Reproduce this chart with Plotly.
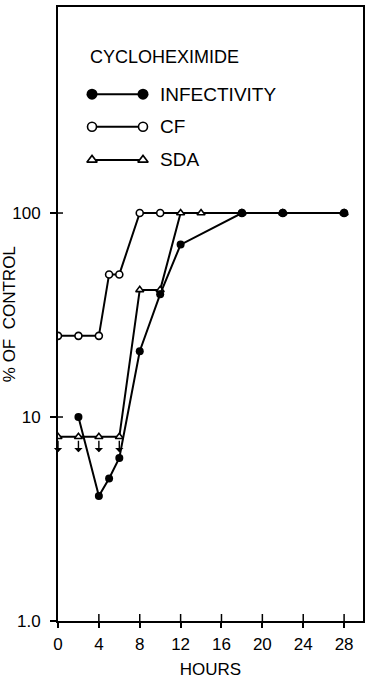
import math
import plotly.graph_objects as go

# ---------------- data ----------------
hours_infectivity = [2, 4, 5, 6, 8, 10, 12, 18, 22, 28]
infectivity = [10, 4.1, 5.0, 6.3, 21, 40, 70, 100, 100, 100]

hours_cf = [0, 2, 4, 5, 6, 8, 10, 18, 22, 28]
cf = [25, 25, 25, 50, 50, 100, 100, 100, 100, 100]

hours_sda = [0, 2, 4, 6, 8, 10, 12, 14, 18, 22, 28]
sda = [8, 8, 8, 8, 42, 42, 100, 100, 100, 100, 100]
sda_below_limit = [True, True, True, True, False, False, False, False, False, False, False]

x_ticks = [0, 4, 8, 12, 16, 20, 24, 28]
y_ticks = [1, 10, 100]
y_ticktext = ["1.0", "10", "100"]

legend_title = "CYCLOHEXIMIDE"
legend_labels = ["INFECTIVITY", "CF", "SDA"]
y_title = "% OF  CONTROL"

# ---------------- styling ----------------
FONT = "Liberation Sans"
BLACK = "black"
X_RANGE = [0, 29.85]
Y_RANGE = [0, 3.01]

fig = go.Figure()

fig.add_trace(go.Scatter(
    x=hours_cf, y=cf, mode="lines+markers", showlegend=False,
    line=dict(color=BLACK, width=2),
    marker=dict(symbol="circle", size=7, color="white", line=dict(color=BLACK, width=1.6)),
))
fig.add_trace(go.Scatter(
    x=hours_sda, y=sda, mode="lines+markers", showlegend=False,
    line=dict(color=BLACK, width=2),
    marker=dict(symbol="triangle-up", size=7, color="white", line=dict(color=BLACK, width=1.6)),
))
fig.add_trace(go.Scatter(
    x=hours_infectivity, y=infectivity, mode="lines+markers", showlegend=False,
    line=dict(color=BLACK, width=2),
    marker=dict(symbol="circle", size=8, color=BLACK),
))

# "less than" arrows under SDA points
for h, v, below in zip(hours_sda, sda, sda_below_limit):
    if below:
        fig.add_annotation(
            x=h, y=math.log10(v), xref="x", yref="y", text="",
            showarrow=True, ax=0, ay=17, arrowside="start",
            arrowhead=2, arrowsize=1, arrowwidth=1.4, arrowcolor=BLACK,
            standoff=4,
        )

# inner half of the crossing tick marks (outer half comes from the axes)
for t in x_ticks[1:]:
    fig.add_shape(type="line", xref="x", yref="paper", ysizemode="pixel", yanchor=0,
                  x0=t, x1=t, y0=0, y1=7, line=dict(color=BLACK, width=1.5))
for t in y_ticks[1:]:
    frac = (math.log10(t) - Y_RANGE[0]) / (Y_RANGE[1] - Y_RANGE[0])
    fig.add_shape(type="line", xref="paper", yref="paper", xsizemode="pixel", xanchor=0,
                  x0=0, x1=5, y0=frac, y1=frac, line=dict(color=BLACK, width=1.5))

# ---------------- custom legend (drawn on an overlay axis in 0..1 units) ----------------
legend_markers = [
    dict(symbol="circle", size=11, color=BLACK),
    dict(symbol="circle", size=9, color="white", line=dict(color=BLACK, width=1.6)),
    dict(symbol="triangle-up", size=9, color="white", line=dict(color=BLACK, width=1.6)),
]
legend_rows = [0.858, 0.805, 0.751]
for label, mk, ry in zip(legend_labels, legend_markers, legend_rows):
    fig.add_trace(go.Scatter(
        x=[0.1115, 0.2787], y=[ry, ry], xaxis="x4", yaxis="y4",
        mode="lines+markers", showlegend=False, hoverinfo="skip",
        line=dict(color=BLACK, width=2), marker=mk,
    ))
    fig.add_annotation(
        x=0.327, y=ry, xref="x4", yref="y4", text=label, showarrow=False,
        xanchor="left", yanchor="middle", font=dict(family=FONT, size=19, color=BLACK),
    )
fig.add_annotation(
    x=0.098, y=0.9186, xref="x4", yref="y4", text=legend_title, showarrow=False,
    xanchor="left", yanchor="middle", font=dict(family=FONT, size=18, color=BLACK),
)

# y-axis title, kept at the page's left edge
fig.add_annotation(
    x=-0.16, y=0.5, xref="paper", yref="paper", text=y_title, textangle=-90,
    showarrow=False, xanchor="center", yanchor="middle",
    font=dict(family=FONT, size=17, color=BLACK),
)

axis_common = dict(showgrid=False, zeroline=False, automargin=False)

fig.update_layout(
    width=367, height=679,
    margin=dict(l=58, r=4, t=7, b=58),
    paper_bgcolor="white", plot_bgcolor="white",
    font=dict(family=FONT, size=17, color=BLACK),
    xaxis=dict(
        range=X_RANGE, tickmode="array", tickvals=x_ticks,
        ticks="outside", ticklen=5, tickwidth=1.5, tickcolor=BLACK,
        showline=True, mirror=True, linecolor=BLACK, linewidth=2,
        tickfont=dict(size=17), ticklabelstandoff=2,
        title=dict(text="HOURS", font=dict(size=17), standoff=12),
        **axis_common,
    ),
    yaxis=dict(
        type="log", range=Y_RANGE, tickmode="array", tickvals=y_ticks, ticktext=y_ticktext,
        ticks="outside", ticklen=6, tickwidth=1.5, tickcolor=BLACK,
        showline=True, mirror=True, linecolor=BLACK, linewidth=2,
        tickfont=dict(size=17), ticklabelstandoff=6,
        **axis_common,
    ),
    xaxis4=dict(overlaying="x", anchor="y4", range=[0, 1], visible=False, **axis_common),
    yaxis4=dict(overlaying="y", anchor="x4", range=[0, 1], visible=False, **axis_common),
)

fig.write_html("out.html")
